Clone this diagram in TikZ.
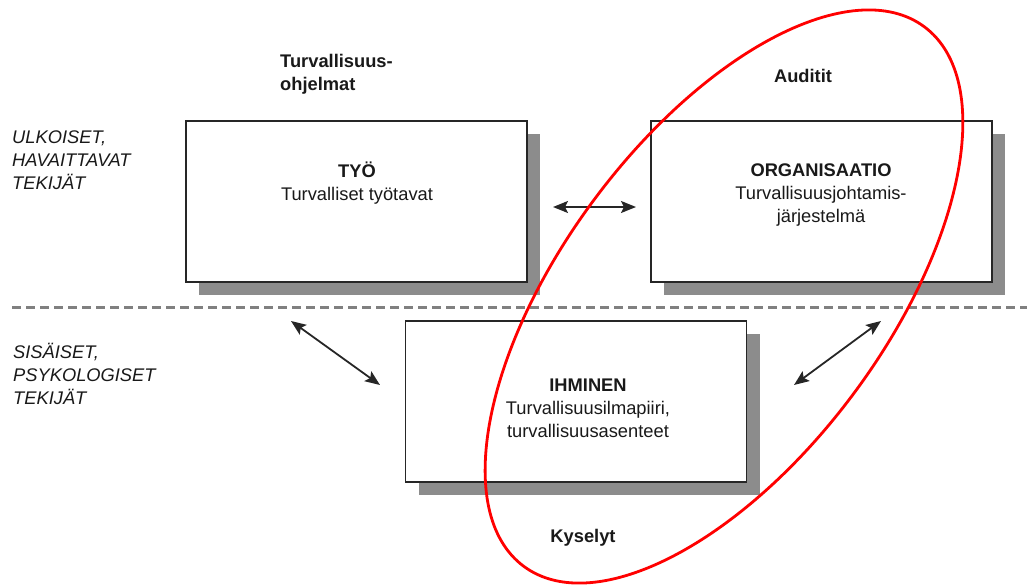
\documentclass[tikz,border=0pt]{standalone}
\usepackage{fontspec}
\setmainfont{Liberation Sans}
\usetikzlibrary{arrows.meta,shadows}
\begin{document}
\begin{tikzpicture}[x=1pt,y=-1pt,
  txt/.style={inner sep=0pt, align=center, text=black!90, font=\fontsize{18.3}{23}\selectfont},
  sidelabel/.style={txt, align=left, anchor=west, font=\fontsize{18.3}{23}\selectfont\itshape},
  factor/.style={draw=black!85, line width=1.5pt, fill=white,
    minimum width=341pt, minimum height=161pt, inner sep=0pt,
    drop shadow={shadow xshift=13pt, shadow yshift=-13pt, fill=black!45, opacity=1}},
  link/.style={line width=1.8pt, draw=black!85,
    {Stealth[length=15pt,width=12pt,inset=3pt]}-{Stealth[length=15pt,width=12pt,inset=3pt]}},
  divider/.style={draw=black!50, line width=3pt, dash pattern=on 9pt off 5pt},
  focus/.style={draw=red, line width=2.8pt}]
\useasboundingbox (0,0) rectangle (1027,586);

% dividing line between external and internal factors
\coordinate (divL) at (12,307);
\coordinate (divR) at (1027,307);
\draw[divider] (divL) -- (divR);

% the three factor boxes
\node[factor] (tyo) at (356.5,201.5) {};
\node[factor] (org) at (821.5,201.5) {};
\node[factor] (ihm) at (576,401.5) {};

\node[txt] (tyoT) at (357,183.5) {\textbf{TYÖ}\\Turvalliset työtavat};
\node[txt] (orgT) at (821,195) {\textbf{ORGANISAATIO}\\Turvallisuusjohtamis-\\järjestelmä};
\node[txt] (ihmT) at (588,408.5) {\textbf{IHMINEN}\\Turvallisuusilmapiiri,\\turvallisuusasenteet};

% side labels
\node[sidelabel] (ext) at (12,160) {ULKOISET,\\HAVAITTAVAT\\TEKIJÄT};
\node[sidelabel] (int) at (13,374) {SISÄISET,\\PSYKOLOGISET\\TEKIJÄT};

% measurement labels
\node[txt, align=left, anchor=west] (prog) at (280,74) {\textbf{Turvallisuus-}\\\textbf{ohjelmat}};
\node[txt] (aud) at (803,76) {\textbf{Auditit}};
\node[txt] (kys) at (583,538) {\textbf{Kyselyt}};

% interaction arrows
\coordinate (hA) at (553,207);
\coordinate (hB) at (636,207);
\coordinate (lA) at (291,321);
\coordinate (lB) at (380,385);
\coordinate (rA) at (881,321);
\coordinate (rB) at (794,385);
\draw[link] (hA) -- (hB);
\draw[link] (lA) -- (lB);
\draw[link] (rA) -- (rB);

% area covered by audits and surveys
\coordinate (ec) at (724,296.5);
\draw[focus, rotate around={53.4:(ec)}] (ec) ellipse [x radius=336pt, y radius=162pt];
\end{tikzpicture}
\end{document}
